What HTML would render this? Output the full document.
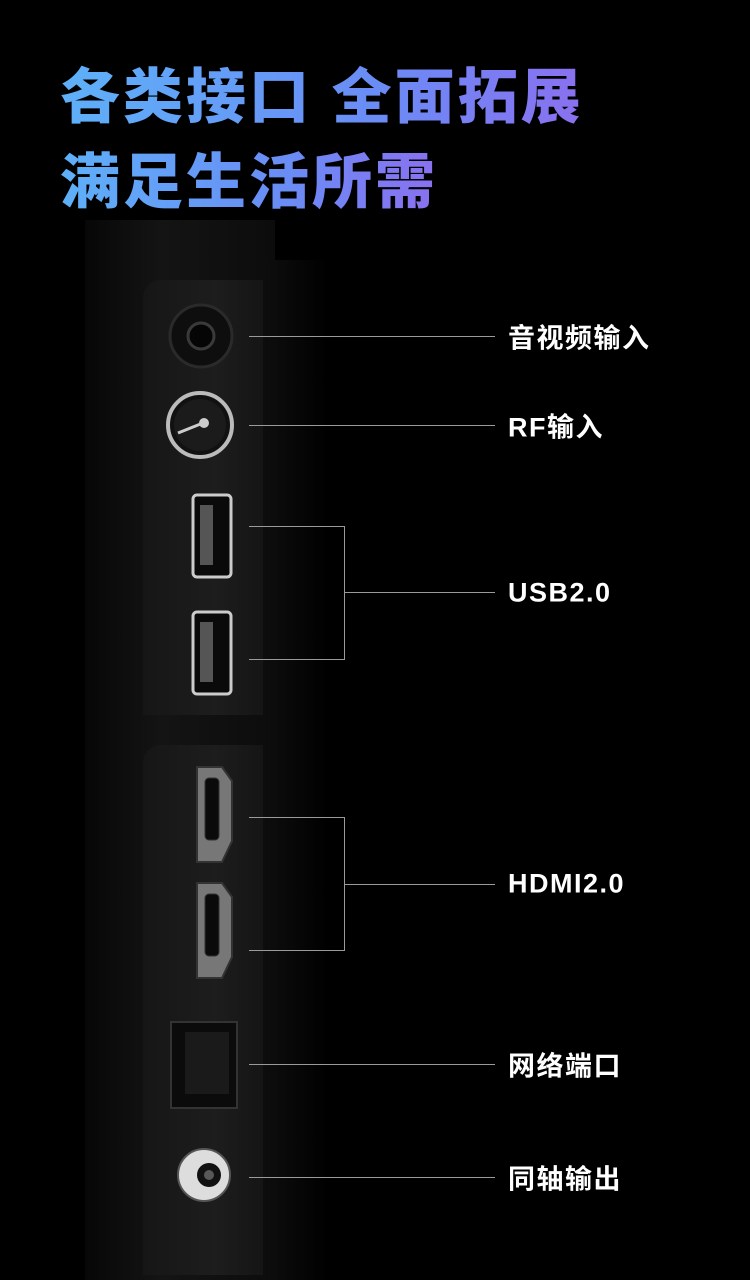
<!DOCTYPE html>
<html><head><meta charset="utf-8"><style>
body{margin:0;width:750px;height:1280px;background:#000;overflow:hidden;position:relative;font-family:"Liberation Sans","Noto Sans CJK SC",sans-serif}
.t{position:absolute;left:60px;font-size:60px;font-weight:900;letter-spacing:3px;background:linear-gradient(90deg,#5eb0f8,#6a8cf5 60%,#8a70f0);-webkit-background-clip:text;color:transparent;white-space:nowrap;line-height:70px}
.lab{position:absolute;left:508px;color:#fff;font-size:27px;font-weight:700;letter-spacing:1.5px;transform:translateY(-50%);white-space:nowrap}
.ln{position:absolute;height:1px;background:#9a9a9a}
.vl{position:absolute;width:1px;background:#9a9a9a}
</style></head><body>
<div style="position:absolute;left:85px;top:220px;width:190px;height:1060px;background:linear-gradient(90deg,#070707,#141414 40%,#0c0c0c)"></div>
<div style="position:absolute;left:268px;top:260px;width:60px;height:1020px;background:linear-gradient(90deg,#0d0d0d,#000)"></div>
<div style="position:absolute;left:143px;top:280px;width:120px;height:435px;background:linear-gradient(90deg,#161616,#1d1d1d 60%,#151515);border-radius:18px 0 0 0"></div>
<div style="position:absolute;left:143px;top:745px;width:120px;height:530px;background:linear-gradient(90deg,#161616,#1d1d1d 60%,#151515);border-radius:18px 0 0 0"></div>
<div class="t" style="top:63px">各类接口 全面拓展</div>
<div class="t" style="top:148px">满足生活所需</div>
<svg width="750" height="1280" style="position:absolute;left:0;top:0">
<circle cx="201" cy="336" r="31" fill="#0e0e0e" stroke="#2a2a2a" stroke-width="3"/>
<circle cx="201" cy="336" r="13" fill="#050505" stroke="#3a3a3a" stroke-width="3"/>
<circle cx="200" cy="425" r="32" fill="#111" stroke="#bbb" stroke-width="4"/>
<circle cx="200" cy="425" r="26" fill="#1b1b1b"/>
<line x1="178" y1="433" x2="203" y2="423" stroke="#ccc" stroke-width="3"/>
<circle cx="204" cy="423" r="5" fill="#ccc"/>
<rect x="193" y="495" width="38" height="82" rx="4" fill="#0a0a0a" stroke="#ccc" stroke-width="3"/>
<rect x="200" y="505" width="13" height="60" fill="#555"/>
<rect x="193" y="612" width="38" height="82" rx="4" fill="#0a0a0a" stroke="#ccc" stroke-width="3"/>
<rect x="200" y="622" width="13" height="60" fill="#555"/>
<path d="M197 767 h25 l10 14 v60 l-10 21 h-25 z" fill="#777" stroke="#333" stroke-width="2"/>
<rect x="205" y="778" width="14" height="62" rx="4" fill="#0a0a0a" stroke="#333"/>
<path d="M197 883 h25 l10 14 v60 l-10 21 h-25 z" fill="#777" stroke="#333" stroke-width="2"/>
<rect x="205" y="894" width="14" height="62" rx="4" fill="#0a0a0a" stroke="#333"/>
<rect x="171" y="1022" width="66" height="86" fill="#0b0b0b" stroke="#333" stroke-width="2"/>
<rect x="185" y="1032" width="44" height="62" fill="#1a1a1a"/>
<circle cx="204" cy="1175" r="26" fill="#ddd" stroke="#555" stroke-width="2"/>
<circle cx="209" cy="1175" r="12" fill="#111"/>
<circle cx="209" cy="1175" r="5" fill="#fff" opacity=".3"/>
</svg>
<div class="ln" style="left:249px;top:336px;width:246px"></div>
<div class="ln" style="left:249px;top:425px;width:246px"></div>
<div class="ln" style="left:249px;top:526px;width:95px"></div>
<div class="ln" style="left:249px;top:659px;width:95px"></div>
<div class="vl" style="left:344px;top:526px;height:134px"></div>
<div class="ln" style="left:344px;top:592px;width:151px"></div>
<div class="ln" style="left:249px;top:817px;width:95px"></div>
<div class="ln" style="left:249px;top:950px;width:95px"></div>
<div class="vl" style="left:344px;top:817px;height:134px"></div>
<div class="ln" style="left:344px;top:884px;width:151px"></div>
<div class="ln" style="left:249px;top:1064px;width:246px"></div>
<div class="ln" style="left:249px;top:1177px;width:246px"></div>
<div class="lab" style="top:336px">音视频输入</div>
<div class="lab" style="top:425px">RF输入</div>
<div class="lab" style="top:593px">USB2.0</div>
<div class="lab" style="top:884px">HDMI2.0</div>
<div class="lab" style="top:1064px">网络端口</div>
<div class="lab" style="top:1177px">同轴输出</div>
</body></html>
